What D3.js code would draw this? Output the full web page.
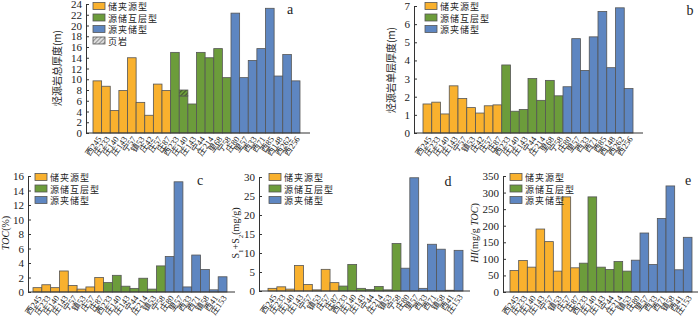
<!DOCTYPE html>
<html>
<head>
<meta charset="utf-8">
<script src="https://cdn.jsdelivr.net/npm/d3@7"></script>
<style>
  body { margin: 0; background: #fff; }
  svg { display: block; }
  text { font-family: "Liberation Serif", "Noto Sans CJK SC", serif; fill: #222; }
</style>
</head>
<body>
<div id="content"></div>
<script>
// categories
const wellsAB = ['西245','庄233','庄140','庄143','宁57','镇53','庄42','庄57','庄87',
  '西233','庄140','庄143','宁44','庄214','里68','宁58',
  '庄80','里57','西33','西71','西85','西148','西262','西256'];
const typesAB = [0,0,0,0,0,0,0,0,0, 1,1,1,1,1,1,1, 2,2,2,2,2,2,2,2];
const wellsCD = ['西245','庄233','庄140','庄143','宁57','镇53','庄57','庄87',
  '西233','庄140','庄143','宁44','庄214','镇53','宁58',
  '庄80','里57','西33','西71','镇58','西41','庄153'];
const typesCD = [0,0,0,0,0,0,0,0, 1,1,1,1,1,1,1, 2,2,2,2,2,2,2];
const wellsE = ['西245','庄233','庄140','庄143','宁57','镇53','庄57','庄87',
  '西233','庄140','庄143','宁44','庄214','镇53',
  '庄80','里57','西33','西71','镇58','西41','庄153'];
const typesE = [0,0,0,0,0,0,0,0, 1,1,1,1,1,1, 2,2,2,2,2,2,2];

// series values
const totalThick = [9.7,8.7,4.2,7.9,14.0,5.7,3.3,9.1,7.9, 15.0,6.9,5.4,15.0,14.0,15.7,10.3, 22.3,10.3,13.5,15.7,23.2,10.6,14.6,9.7];
const shaleThick = [0,0,0,0,0,0,0,0,0, 0,1.1,0,0,0,0,0, 0,0,0,0,0,0,0,0];
const singleThick = [1.6,1.7,1.05,2.6,1.9,1.4,1.1,1.5,1.55, 3.75,1.2,1.3,3.0,1.8,2.9,2.05, 2.55,5.2,3.45,5.3,6.7,3.6,6.9,2.45];
const tocVals = [0.6,1.0,0.6,2.9,0.9,0.4,0.7,2.0, 1.3,2.3,0.8,0.5,1.9,0.4,3.6, 4.9,15.2,0.7,5.1,3.1,0.3,2.1];
const s1s2Vals = [0.7,1.1,0.5,6.7,1.7,0.3,5.7,2.2, 1.3,7.0,0.7,0.4,1.2,0.3,12.5, 6.0,29.8,0.7,12.3,11.0,0.2,10.7];
const hiVals = [65,95,75,190,152,63,287,73, 87,287,75,68,92,63, 96,178,83,222,320,67,165];

// tick labels
const ticksA = d3.range(0, 25, 2);
const ticksB = d3.range(0, 8, 1);
const ticksC = d3.range(0, 17, 2);
const ticksD = d3.range(0, 31, 5);
const ticksE = d3.range(0, 351, 50);

const typeNames = ['储夹源型', '源储互层型', '源夹储型'];
const shaleName = '页岩';
const colors = ['#F9B12E', '#6C9C3B', '#5E86C1'];

const svg = d3.select('#content').append('svg')
  .attr('width', 700).attr('height', 318);

const defs = svg.append('defs');
const pat = defs.append('pattern').attr('id', 'hatch')
  .attr('patternUnits', 'userSpaceOnUse').attr('width', 3).attr('height', 3)
  .attr('patternTransform', 'rotate(45)');
pat.append('rect').attr('width', 3).attr('height', 3).attr('fill', '#6C9C3B');
pat.append('line').attr('x1', 0).attr('y1', 0).attr('x2', 0).attr('y2', 3)
  .attr('stroke', '#222').attr('stroke-width', 1.2);
const pat2 = defs.append('pattern').attr('id', 'hatchLeg')
  .attr('patternUnits', 'userSpaceOnUse').attr('width', 3).attr('height', 3)
  .attr('patternTransform', 'rotate(45)');
pat2.append('rect').attr('width', 3).attr('height', 3).attr('fill', '#ddd');
pat2.append('line').attr('x1', 0).attr('y1', 0).attr('x2', 0).attr('y2', 3)
  .attr('stroke', '#444').attr('stroke-width', 1);

function panel(o) {
  const g = svg.append('g');
  const x = d3.scaleBand().domain(d3.range(o.cats.length)).range([o.bx0, o.bx1]).padding(0);
  const y = d3.scaleLinear().domain([0, o.max]).range([o.y0, o.yTop]);

  // bars
  g.selectAll('rect.bar').data(o.vals).join('rect')
    .attr('class', 'bar')
    .attr('x', (d, i) => x(i))
    .attr('y', d => y(d))
    .attr('width', x.bandwidth())
    .attr('height', d => y(0) - y(d))
    .attr('fill', (d, i) => colors[o.types[i]])
    .attr('stroke', '#555').attr('stroke-width', 0.8);

  if (o.extra) {
    g.selectAll('rect.extra').data(o.extra).join('rect')
      .attr('class', 'extra')
      .attr('x', (d, i) => x(i))
      .attr('y', (d, i) => y(o.vals[i] + d))
      .attr('width', x.bandwidth())
      .attr('height', (d, i) => y(o.vals[i]) - y(o.vals[i] + d))
      .attr('fill', 'url(#hatch)')
      .attr('stroke', d => d > 0 ? '#555' : 'none').attr('stroke-width', 0.8);
  }

  // y axis
  const ax = g.append('g').attr('transform', `translate(${o.axisX},0)`)
    .call(d3.axisLeft(y).tickValues(o.ticks).tickFormat(d3.format('d'))
      .tickSizeInner(-3).tickSizeOuter(0).tickPadding(4));
  ax.select('.domain').attr('stroke', '#333');
  ax.selectAll('.tick line').attr('stroke', '#333');
  ax.selectAll('.tick text').style('font-size', '11px').attr('fill', '#222')
    .style('font-family', '"Liberation Serif", serif');

  // x baseline
  g.append('line').attr('x1', o.axisX).attr('x2', o.axEnd)
    .attr('y1', o.y0).attr('y2', o.y0).attr('stroke', '#333').attr('stroke-width', 1);

  // category labels
  g.selectAll('text.cat').data(o.cats).join('text')
    .attr('class', 'cat')
    .attr('transform', (d, i) => `translate(${x(i) + x.bandwidth() / 2 + 3},${o.y0 + 5}) rotate(-55)`)
    .attr('text-anchor', 'end')
    .attr('dominant-baseline', 'middle')
    .style('font-size', '8.5px')
    .attr('fill', '#444')
    .text(d => d);

  // y label
  const yl = g.append('text')
    .attr('transform', `translate(${o.ylX},${o.ylY}) rotate(-90)`)
    .attr('text-anchor', 'middle')
    .style('font-size', '10px')
    .attr('fill', '#333');
  o.ylabel(yl);

  // letter
  g.append('text').attr('x', o.letter[0]).attr('y', o.letter[1])
    .attr('text-anchor', 'middle').style('font-size', '14px').text(o.letterText);

  // legend
  const items = typeNames.map((n, i) => ({ n, fill: colors[i] }));
  if (o.shale) items.push({ n: shaleName, fill: 'url(#hatchLeg)' });
  const lg = g.selectAll('g.leg').data(items).join('g')
    .attr('transform', (d, i) => `translate(${o.leg[0]},${o.leg[1] + i * o.leg[2]})`);
  lg.append('rect').attr('x', 0).attr('y', -3.5).attr('width', 12).attr('height', 7)
    .attr('fill', d => d.fill).attr('stroke', '#555').attr('stroke-width', 0.8);
  lg.append('text').attr('x', 15).attr('y', 0.5).attr('dominant-baseline', 'central')
    .style('font-size', '9px').style('letter-spacing', '1px').attr('fill', '#333')
    .style('font-family', '"Noto Sans CJK SC", serif').text(d => d.n);
}

panel({
  cats: wellsAB, types: typesAB, vals: totalThick, extra: shaleThick, max: 24, ticks: ticksA,
  axisX: 86, bx0: 93, bx1: 300, axEnd: 310, y0: 133, yTop: 4,
  ylX: 61, ylY: 68, letter: [290, 14], letterText: 'a', leg: [93, 6, 11.5], shale: true,
  ylabel: t => t.style('font-family', '"Noto Sans CJK SC", serif').text('烃源岩总厚度(m)')
});
panel({
  cats: wellsAB, types: typesAB, vals: singleThick, max: 7, ticks: ticksB,
  axisX: 414, bx0: 423, bx1: 633, axEnd: 643, y0: 133, yTop: 6,
  ylX: 395, ylY: 70, letter: [690, 15], letterText: 'b', leg: [425, 6, 11.5],
  ylabel: t => t.style('font-family', '"Noto Sans CJK SC", serif').text('烃源岩单层厚度(m)')
});
panel({
  cats: wellsCD, types: typesCD, vals: tocVals, max: 16, ticks: ticksC,
  axisX: 28, bx0: 33, bx1: 227, axEnd: 235, y0: 292, yTop: 176,
  ylX: 9, ylY: 233, letter: [200, 185], letterText: 'c', leg: [35, 177, 11.5],
  ylabel: t => {
    t.append('tspan').style('font-style', 'italic').text('TOC');
    t.append('tspan').text('(%)');
  }
});
panel({
  cats: wellsCD, types: typesCD, vals: s1s2Vals, max: 30, ticks: ticksD,
  axisX: 259, bx0: 268, bx1: 463, axEnd: 470, y0: 291, yTop: 177,
  ylX: 239, ylY: 233, letter: [448, 186], letterText: 'd', leg: [269, 177, 11.5],
  ylabel: t => {
    t.append('tspan').text('S');
    t.append('tspan').attr('baseline-shift', 'sub').style('font-size', '7px').text('1');
    t.append('tspan').text('+S');
    t.append('tspan').attr('baseline-shift', 'sub').style('font-size', '7px').text('2');
    t.append('tspan').text('(mg/g)');
  }
});
panel({
  cats: wellsE, types: typesE, vals: hiVals, max: 350, ticks: ticksE,
  axisX: 503, bx0: 510, bx1: 692, axEnd: 698, y0: 292, yTop: 176,
  ylX: 478, ylY: 233, letter: [688, 185], letterText: 'e', leg: [510, 177, 11.5],
  ylabel: t => {
    t.append('tspan').style('font-style', 'italic').text('HI');
    t.append('tspan').text('(mg/g ');
    t.append('tspan').style('font-style', 'italic').text('TOC');
    t.append('tspan').text(')');
  }
});
</script>
</body>
</html>
